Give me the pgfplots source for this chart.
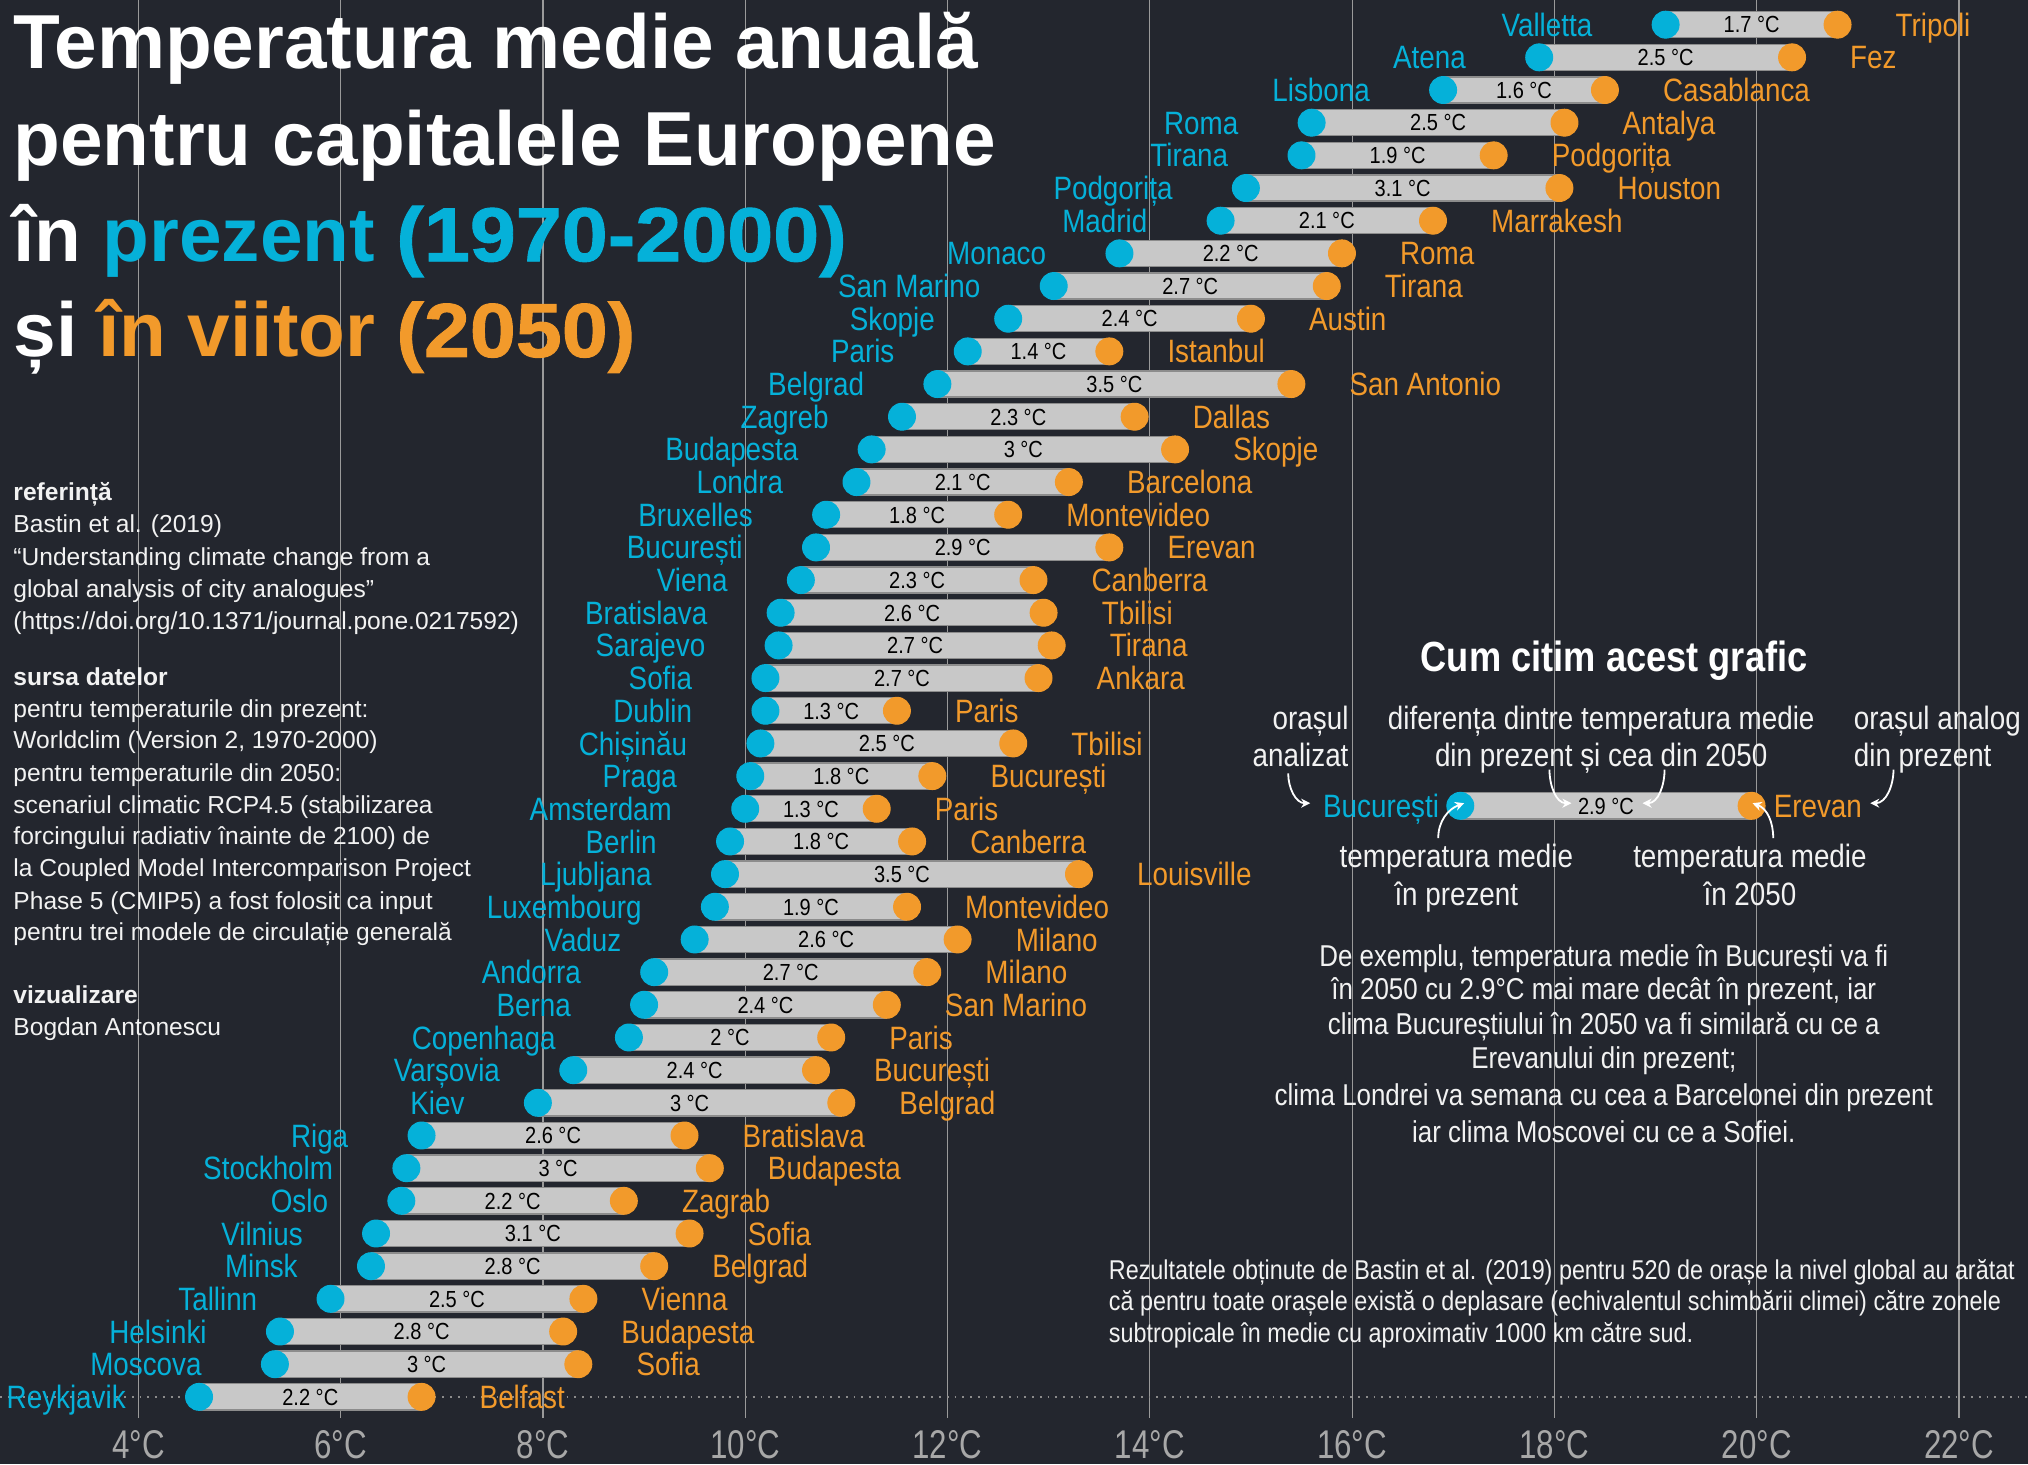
\documentclass[border=0pt]{standalone}
\usepackage{fontspec}
\setmainfont{Liberation Sans}
\newfontfamily\cond{Liberation Sans}[FakeStretch=0.86]
\newfontfamily\tickfont{Liberation Sans}[FakeStretch=0.78]
\newfontfamily\midf{Liberation Sans}[FakeBold=1.2, FakeStretch=1.08]
\usepackage{pgfplots}
\usepackage{pgfplotstable}
\pgfplotsset{compat=1.18}
\usetikzlibrary{arrows.meta}
\definecolor{bgc}{HTML}{23262E}
\definecolor{cblue}{HTML}{05B1D9}
\definecolor{corange}{HTML}{F29A2B}
\definecolor{barc}{HTML}{C8C8C8}
\definecolor{bare}{HTML}{8C8C8C}
\definecolor{gridc}{HTML}{9A9A9A}
\definecolor{tickc}{HTML}{A8A8A8}
\definecolor{txtc}{HTML}{F2F2F2}
\newcommand\labf{\cond\fontsize{12.5}{14}\selectfont}
\newcommand\difff{\cond\fontsize{9}{10}\selectfont}

\pgfplotstableread{
y lo hi d city analog
43 19.1 20.8 1.7 Valletta Tripoli
42 17.85 20.35 2.5 Atena Fez
41 16.9 18.5 1.6 Lisbona Casablanca
40 15.6 18.1 2.5 Roma Antalya
39 15.5 17.4 1.9 Tirana Podgorița
38 14.95 18.05 3.1 Podgorița Houston
37 14.7 16.8 2.1 Madrid Marrakesh
36 13.7 15.9 2.2 Monaco Roma
35 13.05 15.75 2.7 {San Marino} Tirana
34 12.6 15.0 2.4 Skopje Austin
33 12.2 13.6 1.4 Paris Istanbul
32 11.9 15.4 3.5 Belgrad {San Antonio}
31 11.55 13.85 2.3 Zagreb Dallas
30 11.25 14.25 3 Budapesta Skopje
29 11.1 13.2 2.1 Londra Barcelona
28 10.8 12.6 1.8 Bruxelles Montevideo
27 10.7 13.6 2.9 București Erevan
26 10.55 12.85 2.3 Viena Canberra
25 10.35 12.95 2.6 Bratislava Tbilisi
24 10.33 13.03 2.7 Sarajevo Tirana
23 10.2 12.9 2.7 Sofia Ankara
22 10.2 11.5 1.3 Dublin Paris
21 10.15 12.65 2.5 Chișinău Tbilisi
20 10.05 11.85 1.8 Praga București
19 10.0 11.3 1.3 Amsterdam Paris
18 9.85 11.65 1.8 Berlin Canberra
17 9.8 13.3 3.5 Ljubljana Louisville
16 9.7 11.6 1.9 Luxembourg Montevideo
15 9.5 12.1 2.6 Vaduz Milano
14 9.1 11.8 2.7 Andorra Milano
13 9.0 11.4 2.4 Berna {San Marino}
12 8.85 10.85 2 Copenhaga Paris
11 8.3 10.7 2.4 Varșovia București
10 7.95 10.95 3 Kiev Belgrad
9 6.8 9.4 2.6 Riga Bratislava
8 6.65 9.65 3 Stockholm Budapesta
7 6.6 8.8 2.2 Oslo Zagrab
6 6.35 9.45 3.1 Vilnius Sofia
5 6.3 9.1 2.8 Minsk Belgrad
4 5.9 8.4 2.5 Tallinn Vienna
3 5.4 8.2 2.8 Helsinki Budapesta
2 5.35 8.35 3 Moscova Sofia
1 4.6 6.8 2.2 Reykjavik Belfast
}\data

\begin{document}
\begin{tikzpicture}
\useasboundingbox (0pt,-18pt) rectangle (784pt,548pt);
\fill[bgc] (0pt,-18pt) rectangle (784pt,548pt);
\begin{axis}[
  at={(0pt,0pt)}, anchor=south west,
  scale only axis, width=784pt, height=548pt,
  xmin=2.632, xmax=22.683, ymin=0.367, ymax=43.755,
  clip=false,
  axis line style={draw=none},
  major tick length=0pt,
  ytick=\empty,
  xtick={4,6,...,22},
  xticklabels={4°C,6°C,8°C,10°C,12°C,14°C,16°C,18°C,20°C,22°C},
  xticklabel style={anchor=center, yshift=-10.5pt, text=tickc,
    font=\tickfont\fontsize{15.5}{16}\selectfont},
  xmajorgrids,
  grid style={gridc, line width=0.45pt},
]
% dotted baseline
\addplot[color=bare, line width=0.7pt, dash pattern=on 0.7pt off 2.3pt] coordinates {(2.632,1) (22.683,1)};
% bars (outline + fill)
\addplot[only marks, mark=none, error bars/.cd, x dir=plus, x explicit, error mark=none,
  error bar style={draw=bare, line width=10.6pt}]
  table[x=lo, y=y, x error expr=\thisrow{hi}-\thisrow{lo}] {\data};
\addplot[only marks, mark=none, error bars/.cd, x dir=plus, x explicit, error mark=none,
  error bar style={draw=barc, line width=9.6pt}]
  table[x=lo, y=y, x error expr=\thisrow{hi}-\thisrow{lo}] {\data};
% dots
\addplot[only marks, mark=*, mark size=5.2pt, mark options={draw=cblue, fill=cblue, line width=0.4pt}]
  table[x=lo, y=y] {\data};
\addplot[only marks, mark=*, mark size=5.2pt, mark options={draw=corange, fill=corange, line width=0.4pt}]
  table[x=hi, y=y] {\data};
% labels
\addplot[only marks, mark=none, point meta=explicit symbolic, nodes near coords,
  nodes near coords style={anchor=base east, inner sep=0pt, yshift=-4.47pt, text=cblue, font=\labf}]
  table[x expr=\thisrow{lo}-0.72, y=y, meta=city] {\data};
\addplot[only marks, mark=none, point meta=explicit symbolic, nodes near coords,
  nodes near coords style={anchor=base west, inner sep=0pt, yshift=-4.47pt, text=corange, font=\labf}]
  table[x expr=\thisrow{hi}+0.57, y=y, meta=analog] {\data};
\addplot[only marks, mark=none, point meta=explicit symbolic, nodes near coords={\pgfplotspointmeta\ °C},
  nodes near coords style={anchor=base, inner sep=0pt, yshift=-3.2pt, text=black, font=\difff}]
  table[x expr={(\thisrow{lo}+\thisrow{hi})/2}, y=y, meta=d] {\data};
% example bar in the explainer
\addplot[only marks, mark=none, error bars/.cd, x dir=plus, x explicit, error mark=none,
  error bar style={draw=bare, line width=10.6pt}] coordinates {(17.07,19.09) +- (2.88,0)};
\addplot[only marks, mark=none, error bars/.cd, x dir=plus, x explicit, error mark=none,
  error bar style={draw=barc, line width=9.6pt}] coordinates {(17.07,19.09) +- (2.88,0)};
\addplot[only marks, mark=*, mark size=5.2pt, mark options={draw=cblue, fill=cblue, line width=0.4pt}] coordinates {(17.07,19.09)};
\addplot[only marks, mark=*, mark size=5.2pt, mark options={draw=corange, fill=corange, line width=0.4pt}] coordinates {(19.95,19.09)};
\node[anchor=base east, inner sep=0pt, yshift=-4.47pt, text=cblue, font=\labf] at (axis cs:16.865,19.09) {București};
\node[anchor=base west, inner sep=0pt, yshift=-4.47pt, text=corange, font=\labf] at (axis cs:20.164,19.09) {Erevan};
\node[anchor=base, inner sep=0pt, yshift=-3.2pt, text=black, font=\difff] at (axis cs:18.51,19.09) {2.9 °C};
\end{axis}

% title
\begin{scope}[every node/.style={anchor=base west, inner sep=0pt, text=white,
   font=\fontsize{29.6}{37}\selectfont\bfseries}]
\node at (5pt,521.6pt) {Temperatura medie anuală};
\node at (5pt,484pt) {pentru capitalele Europene};
\node at (5pt,447pt) {în \textcolor{cblue}{prezent {\midf(1970-2000)}}};
\node at (5pt,410pt) {și \textcolor{corange}{în viitor {\midf(2050)}}};
\end{scope}

% left notes
\begin{scope}[every node/.style={anchor=base west, inner sep=0pt, text=txtc,
   font=\fontsize{9.5}{12}\selectfont}]
\node at (5pt,354.5pt) {\bfseries referință};
\node at (5pt,342pt) {Bastin et al. (2019)};
\node at (5pt,329.5pt) {“Understanding climate change from a};
\node at (5pt,317pt) {global analysis of city analogues”};
\node at (5pt,304.5pt) {(https://doi.org/10.1371/journal.pone.0217592)};
\node at (5pt,283pt) {\bfseries sursa datelor};
\node at (5pt,270.5pt) {pentru temperaturile din prezent:};
\node at (5pt,258.5pt) {Worldclim (Version 2, 1970-2000)};
\node at (5pt,246pt) {pentru temperaturile din 2050:};
\node at (5pt,233.5pt) {scenariul climatic RCP4.5 (stabilizarea};
\node at (5pt,221.5pt) {forcingului radiativ înainte de 2100) de};
\node at (5pt,209pt) {la Coupled Model Intercomparison Project};
\node at (5pt,196.5pt) {Phase 5 (CMIP5) a fost folosit ca input};
\node at (5pt,184.5pt) {pentru trei modele de circulație generală};
\node at (5pt,160pt) {\bfseries vizualizare};
\node at (5pt,147.5pt) {Bogdan Antonescu};
\end{scope}

% explainer
\node[anchor=base, inner sep=0pt, text=white, font=\cond\fontsize{16.3}{17}\selectfont\bfseries] at (624pt,288.5pt) {Cum citim acest grafic};
\begin{scope}[every node/.style={inner sep=0pt, text=txtc, font=\labf}]
\node[anchor=base east] at (521.5pt,266pt) {orașul};
\node[anchor=base east] at (521.5pt,251.5pt) {analizat};
\node[anchor=base] at (619pt,266pt) {diferența dintre temperatura medie};
\node[anchor=base] at (619pt,251.5pt) {din prezent și cea din 2050};
\node[anchor=base west] at (716.5pt,266pt) {orașul analog};
\node[anchor=base west] at (716.5pt,251.5pt) {din prezent};
\node[anchor=base] at (563pt,212.5pt) {temperatura medie};
\node[anchor=base] at (563pt,198pt) {în prezent};
\node[anchor=base] at (676.5pt,212.5pt) {temperatura medie};
\node[anchor=base] at (676.5pt,198pt) {în 2050};
\end{scope}
\begin{scope}[every node/.style={anchor=base, inner sep=0pt, text=txtc, font=\cond\fontsize{11.65}{13}\selectfont}]
\node at (620pt,174.5pt) {De exemplu, temperatura medie în București va fi};
\node at (620pt,161.5pt) {în 2050 cu 2.9°C mai mare decât în prezent, iar};
\node at (620pt,148pt) {clima Bucureștiului în 2050 va fi similară cu ce a};
\node at (620pt,135pt) {Erevanului din prezent;};
\node at (620pt,120.5pt) {clima Londrei va semana cu cea a Barcelonei din prezent};
\node at (620pt,106.5pt) {iar clima Moscovei cu ce a Sofiei.};
\end{scope}
\begin{scope}[every node/.style={anchor=base west, inner sep=0pt, text=txtc, font=\cond\fontsize{10.5}{12}\selectfont}]
\node at (428.5pt,53.5pt) {Rezultatele obținute de Bastin et al. (2019) pentru 520 de orașe la nivel global au arătat};
\node at (428.5pt,41.5pt) {că pentru toate orașele există o deplasare (echivalentul schimbării climei) către zonele};
\node at (428.5pt,29pt) {subtropicale în medie cu aproximativ 1000 km către sud.};
\end{scope}
% arrows
\begin{scope}[white, line width=0.7pt, -{Stealth[length=3.5pt,width=3.5pt]}]
\draw (498pt,249pt) to[out=-90,in=180] (506.5pt,237.5pt);
\draw (599pt,250.5pt) to[out=-90,in=180] (607.5pt,237.5pt);
\draw (643.5pt,250.5pt) to[out=-90,in=0] (635pt,237.5pt);
\draw (732pt,250.5pt) to[out=-90,in=0] (723pt,237.5pt);
\draw (556pt,224pt) to[out=90,in=200] (566pt,237.5pt);
\draw (685.5pt,224pt) to[out=90,in=-20] (677.5pt,237.5pt);
\end{scope}
\end{tikzpicture}
\end{document}
